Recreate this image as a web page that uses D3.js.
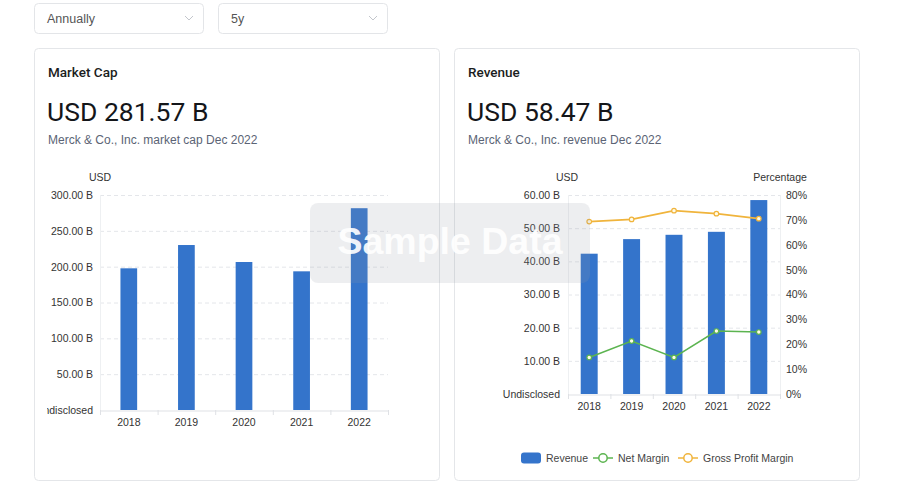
<!DOCTYPE html>
<html><head><meta charset="utf-8">
<script src="https://cdn.jsdelivr.net/npm/d3@7/dist/d3.min.js"></script>
<style>
html,body{margin:0;padding:0;background:#fff;}
svg{display:block;font-family:"Liberation Sans","Helvetica Neue",Arial,sans-serif;}
</style></head>
<body>
<svg id="c" width="900" height="486"></svg>
<script>
const years = ["2018","2019","2020","2021","2022"];
const marketCap = [197.7, 230.2, 206.5, 193.5, 281.57];
const revenue = [42.3, 46.7, 48.0, 48.9, 58.47];
const netMargin = [14.7, 21.3, 14.7, 25.3, 24.9];
const grossMargin = [69.3, 70.2, 73.7, 72.5, 70.5];
const mcTicks = [0, 50, 100, 150, 200, 250, 300];
const revTicks = [0, 10, 20, 30, 40, 50, 60];
const pctTicks = [0, 10, 20, 30, 40, 50, 60, 70, 80];
const dropdowns = ["Annually", "5y"];

const BLUE = "#3474cb", GREEN = "#5cb450", ORANGE = "#f0b43c";
const GRID = "#e4e6ea", AXIS = "#dfe1e5", TXT = "#333";

const svg = d3.select("#c");

// dropdowns
dropdowns.forEach((t, i) => {
  const x0 = 34 + i * 184;
  const g = svg.append("g");
  g.append("rect").attr("x", x0 + 0.5).attr("y", 3.5).attr("width", 169).attr("height", 30)
    .attr("rx", 4).attr("fill", "#fff").attr("stroke", "#e3e5e8");
  g.append("text").attr("x", x0 + 13).attr("y", 22.5).attr("font-size", 12.5).attr("fill", "#555").text(t);
  g.append("path").attr("d", `M${x0+151},${16} l4,4 l4,-4`).attr("fill", "none").attr("stroke", "#c3c6cc").attr("stroke-width", 1);
});

// cards
[34, 454].forEach(x0 => {
  svg.append("rect").attr("x", x0 + 0.5).attr("y", 48.5).attr("width", 405).attr("height", 432)
    .attr("rx", 4).attr("fill", "#fff").attr("stroke", "#e4e6e9");
});

function header(x0, title, big, sub) {
  svg.append("text").attr("x", x0).attr("y", 77).attr("font-family", "Roboto, sans-serif").attr("font-weight", 500)
    .attr("font-size", 13.5).attr("fill", "#1b1d21").text(title);
  svg.append("text").attr("x", x0 - 1).attr("y", 121).attr("font-family", "Roboto, sans-serif")
    .attr("font-size", 26.5).attr("fill", "#14161a").text(big);
  svg.append("text").attr("x", x0).attr("y", 143.5).attr("font-size", 12).attr("fill", "#5b6475").text(sub);
}
header(48, "Market Cap", "USD 281.57 B", "Merck & Co., Inc. market cap Dec 2022");
header(468, "Revenue", "USD 58.47 B", "Merck & Co., Inc. revenue Dec 2022");

const fmtB = v => v === 0 ? "Undisclosed" : v.toFixed(2) + " B";

// ---------- Left chart: Market Cap ----------
svg.append("defs").append("clipPath").attr("id", "lc").append("rect")
  .attr("x", 47).attr("y", 150).attr("width", 390).attr("height", 320);
const L = svg.append("g").attr("clip-path", "url(#lc)");
const xL = d3.scaleBand().domain(years).range([100, 388]).padding(0);
const yL = d3.scaleLinear().domain([0, 300]).range([410, 195]);

L.append("g").selectAll("line").data(mcTicks.filter(d => d > 0)).join("line")
  .attr("x1", 100).attr("x2", 388).attr("y1", d => yL(d) + 0.5).attr("y2", d => yL(d) + 0.5)
  .attr("stroke", GRID).attr("stroke-dasharray", "4,3");
L.append("line").attr("x1", 100.5).attr("x2", 100.5).attr("y1", 195).attr("y2", 410).attr("stroke", "#eef0f2");

L.append("g").selectAll("rect").data(years).join("rect")
  .attr("x", d => xL(d) + xL.bandwidth() * 0.355).attr("width", xL.bandwidth() * 0.29)
  .attr("y", (d, i) => yL(marketCap[i])).attr("height", (d, i) => yL(0) - yL(marketCap[i]))
  .attr("fill", BLUE);

const axL = L.append("g").attr("transform", "translate(0,410.5)")
  .call(d3.axisBottom(xL).tickSize(0).tickSizeOuter(0));
axL.select(".domain").attr("stroke", AXIS);
axL.selectAll("text").attr("font-size", 10.5).attr("fill", TXT).attr("dy", "1.2em").attr("font-family", null);
L.append("g").selectAll("line").data(d3.range(6)).join("line")
  .attr("x1", i => 100 + i * xL.step() + 0.5).attr("x2", i => 100 + i * xL.step() + 0.5)
  .attr("y1", 410).attr("y2", 415).attr("stroke", AXIS);

const ayL = L.append("g").attr("transform", "translate(100,0)")
  .call(d3.axisLeft(yL).tickValues(mcTicks).tickFormat(fmtB).tickSize(0).tickPadding(7));
ayL.select(".domain").remove();
ayL.selectAll("text").attr("font-size", 10.5).attr("fill", TXT).attr("font-family", null);
L.append("text").attr("x", 100).attr("y", 181).attr("text-anchor", "middle").attr("font-size", 10.5).attr("fill", TXT).text("USD");

// ---------- Right chart: Revenue ----------
const R = svg.append("g");
const xR = d3.scaleBand().domain(years).range([568, 780]).padding(0);
const yR = d3.scaleLinear().domain([0, 60]).range([394, 195]);
const pR = d3.scaleLinear().domain([0, 80]).range([394, 195]);

R.append("g").selectAll("line").data(revTicks.filter(d => d > 0)).join("line")
  .attr("x1", 568).attr("x2", 780).attr("y1", d => yR(d) + 0.5).attr("y2", d => yR(d) + 0.5)
  .attr("stroke", GRID).attr("stroke-dasharray", "4,3");
R.append("line").attr("x1", 568.5).attr("x2", 568.5).attr("y1", 195).attr("y2", 394).attr("stroke", "#eef0f2");
R.append("line").attr("x1", 780.5).attr("x2", 780.5).attr("y1", 195).attr("y2", 394).attr("stroke", "#eef0f2");

R.append("g").selectAll("rect").data(years).join("rect")
  .attr("x", d => xR(d) + xR.bandwidth() * 0.3).attr("width", xR.bandwidth() * 0.4)
  .attr("y", (d, i) => yR(revenue[i])).attr("height", (d, i) => yR(0) - yR(revenue[i]))
  .attr("fill", BLUE);

const cx = d => xR(d) + xR.bandwidth() / 2;
function series(vals, color) {
  const line = d3.line().x((d, i) => cx(years[i])).y(d => pR(d));
  R.append("path").datum(vals).attr("d", line).attr("fill", "none").attr("stroke", color).attr("stroke-width", 1.6);
  R.append("g").selectAll("circle").data(vals).join("circle")
    .attr("cx", (d, i) => cx(years[i])).attr("cy", d => pR(d)).attr("r", 2.3)
    .attr("fill", "#fffbe8").attr("stroke", color).attr("stroke-width", 1.2);
}
series(grossMargin, ORANGE);
series(netMargin, GREEN);

const axR = R.append("g").attr("transform", "translate(0,394.5)")
  .call(d3.axisBottom(xR).tickSize(0).tickSizeOuter(0));
axR.select(".domain").attr("stroke", AXIS);
axR.selectAll("text").attr("font-size", 10.5).attr("fill", TXT).attr("dy", "1.2em").attr("font-family", null);
R.append("g").selectAll("line").data(d3.range(6)).join("line")
  .attr("x1", i => 568 + i * xR.step() + 0.5).attr("x2", i => 568 + i * xR.step() + 0.5)
  .attr("y1", 394).attr("y2", 399).attr("stroke", AXIS);

const ayR = R.append("g").attr("transform", "translate(568,0)")
  .call(d3.axisLeft(yR).tickValues(revTicks).tickFormat(fmtB).tickSize(0).tickPadding(8));
ayR.select(".domain").remove();
ayR.selectAll("text").attr("font-size", 10.5).attr("fill", TXT).attr("font-family", null);
const ayR2 = R.append("g").attr("transform", "translate(780,0)")
  .call(d3.axisRight(pR).tickValues(pctTicks).tickFormat(d => d + "%").tickSize(0).tickPadding(6));
ayR2.select(".domain").remove();
ayR2.selectAll("text").attr("font-size", 10.5).attr("fill", TXT).attr("font-family", null);
R.append("text").attr("x", 567).attr("y", 181).attr("text-anchor", "middle").attr("font-size", 10.5).attr("fill", TXT).text("USD");
R.append("text").attr("x", 780).attr("y", 181).attr("text-anchor", "middle").attr("font-size", 10.5).attr("fill", TXT).text("Percentage");

// legend
const lg = svg.append("g").attr("font-size", 10.5).attr("fill", "#444");
lg.append("rect").attr("x", 521).attr("y", 452.5).attr("width", 20).attr("height", 11).attr("rx", 3).attr("fill", BLUE);
lg.append("text").attr("x", 546).attr("y", 462).text("Revenue");
[[593, GREEN, "Net Margin"], [678, ORANGE, "Gross Profit Margin"]].forEach(([x0, c, t]) => {
  lg.append("line").attr("x1", x0).attr("x2", x0 + 20).attr("y1", 458).attr("y2", 458).attr("stroke", c).attr("stroke-width", 1.5);
  lg.append("circle").attr("cx", x0 + 10).attr("cy", 458).attr("r", 4.2).attr("fill", "#fff").attr("stroke", c).attr("stroke-width", 1.5);
  lg.append("text").attr("x", x0 + 25).attr("y", 462).text(t);
});

// watermark
svg.append("rect").attr("x", 310).attr("y", 203).attr("width", 280).attr("height", 80).attr("rx", 8)
  .attr("fill", "rgb(150,155,165)").attr("fill-opacity", 0.17);
svg.append("text").attr("x", 450).attr("y", 254).attr("text-anchor", "middle").attr("font-weight", 700)
  .attr("font-size", 37.5).attr("fill", "#fff").attr("fill-opacity", 0.92).text("Sample Data");
</script>
</body></html>
